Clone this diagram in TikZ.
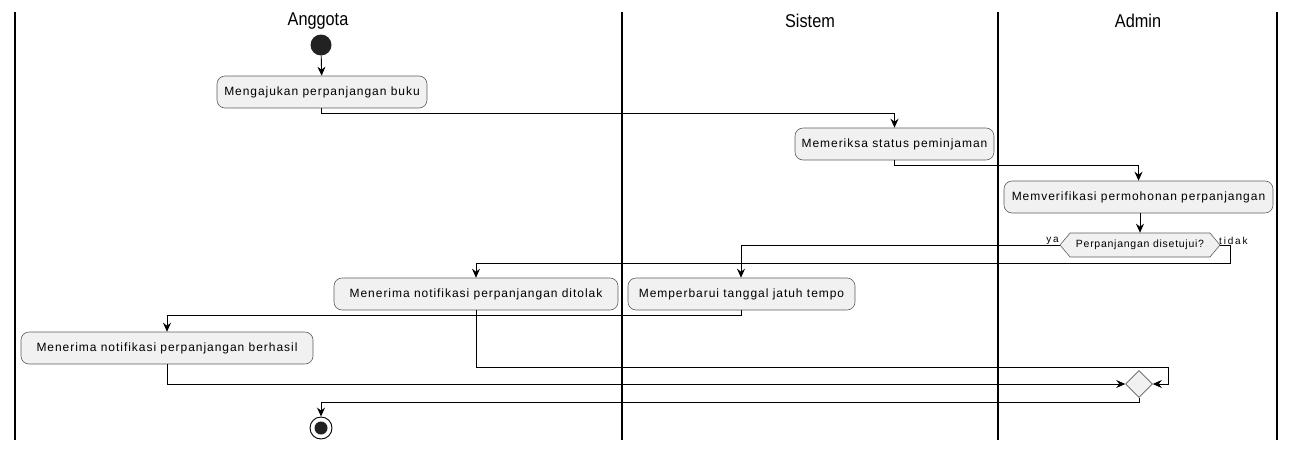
\documentclass[tikz,border=0pt]{standalone}
\usepackage{fontspec}
\setmainfont{Liberation Sans}
\newfontfamily\actfont[LetterSpace=8]{Liberation Sans}
\newfontfamily\decfont[LetterSpace=7]{Liberation Sans}
\newfontfamily\lblfont[LetterSpace=18]{Liberation Sans}
\newfontfamily\headfont[FakeStretch=0.88]{Liberation Sans}
\usetikzlibrary{arrows.meta,shapes.geometric,shapes.symbols}
\definecolor{boxfill}{HTML}{F1F1F1}
\definecolor{boxline}{HTML}{181818}
\definecolor{darkdot}{HTML}{222222}
\begin{document}
\begin{tikzpicture}[x=1pt,y=-1pt,
  lane/.style={line width=1.2pt,black},
  head/.style={font=\headfont\fontsize{18.5}{18}\selectfont},
  act/.style={draw=boxline!70,fill=boxfill,rounded corners=8pt,line width=0.6pt,
    font=\actfont\fontsize{12}{12}\selectfont,minimum height=32pt,inner sep=0pt,text=black},
  dec/.style={signal,signal to=west and east,signal pointer angle=100,draw=boxline!70,fill=boxfill,
    line width=0.6pt,font=\decfont\fontsize{10.5}{11}\selectfont,minimum height=24pt,inner sep=0pt,inner xsep=3pt},
  merge/.style={diamond,draw=boxline!70,fill=boxfill,line width=0.6pt,minimum size=27pt,inner sep=0pt},
  lbl/.style={font=\lblfont\fontsize{10}{10}\selectfont,inner sep=0pt},
  arr/.style={line width=0.9pt,black,-{Stealth[length=9pt,width=8pt,inset=3pt]}},
  ln/.style={line width=0.9pt,black}]
\useasboundingbox (0,0) rectangle (1300,453);
% lanes
\draw[lane] (15,12) -- (15,440);
\draw[lane] (622,12) -- (622,440);
\draw[lane] (998,12) -- (998,440);
\draw[lane] (1277,12) -- (1277,440);
\node[head] (hA) at (318,21) {Anggota};
\node[head] (hS) at (810,21) {Sistem};
\node[head] (hD) at (1138,21) {Admin};
% start
\node[circle,fill=darkdot,minimum size=21pt,inner sep=0pt] (start) at (321,45) {};
% activities
\node[act,minimum width=210pt] (a1) at (322,92) {Mengajukan perpanjangan buku};
\node[act,minimum width=199pt] (a2) at (894.5,144) {Memeriksa status peminjaman};
\node[act,minimum width=269pt] (a3) at (1138.5,197) {Memverifikasi permohonan perpanjangan};
\node[dec,minimum width=160pt] (d1) at (1140,245) {Perpanjangan disetujui?};
\node[lbl,anchor=south east] (ya) at (1059,245) {ya};
\node[lbl,anchor=south west] (tidak) at (1219,245) {tidak};
\node[act,minimum width=227pt] (a4) at (741.5,294) {Memperbarui tanggal jatuh tempo};
\node[act,minimum width=284pt] (a5) at (476,294) {Menerima notifikasi perpanjangan ditolak};
\node[act,minimum width=292pt] (a6) at (167,348) {Menerima notifikasi perpanjangan berhasil};
\node[merge] (m1) at (1139,384) {};
% end
\node[circle,draw=black,fill=white,line width=0.9pt,minimum size=22pt,inner sep=0pt] (stop) at (321,428) {};
\node[circle,fill=darkdot,minimum size=13pt,inner sep=0pt] (stopin) at (321,428) {};
% connectors
\draw[arr] (start) -- (a1);
\coordinate (c1) at (321,113);
\draw[arr] (a1.south -| c1) -- (c1) -| (a2.north);
\coordinate (c2) at (894,165);
\draw[arr] (a2.south -| c2) -- (c2) -| (a3.north);
\draw[arr] (a3.south -| d1) -- (d1.north);
\coordinate (c3) at (741,245);
\draw[arr] (d1.west) -- (c3) -- (a4.north -| c3);
\coordinate (c4) at (1230,245);
\coordinate (c5) at (1230,263);
\draw[arr] (d1.east) -- (c4) -- (c5) -| (a5.north);
\coordinate (c6) at (741,315);
\draw[arr] (a4.south -| c6) -- (c6) -| (a6.north);
\coordinate (c7) at (476,367);
\coordinate (c8) at (1168,367);
\coordinate (c9) at (1168,384);
\draw[arr] (a5.south) -- (c7) -- (c8) -- (c9) -- (m1.east);
\draw[arr] (a6.south) |- (m1.west);
\coordinate (c10) at (1139,402);
\coordinate (c11) at (321,402);
\draw[arr] (m1.south) -- (c10) -- (c11) -- (stop.north);
\end{tikzpicture}
\end{document}
